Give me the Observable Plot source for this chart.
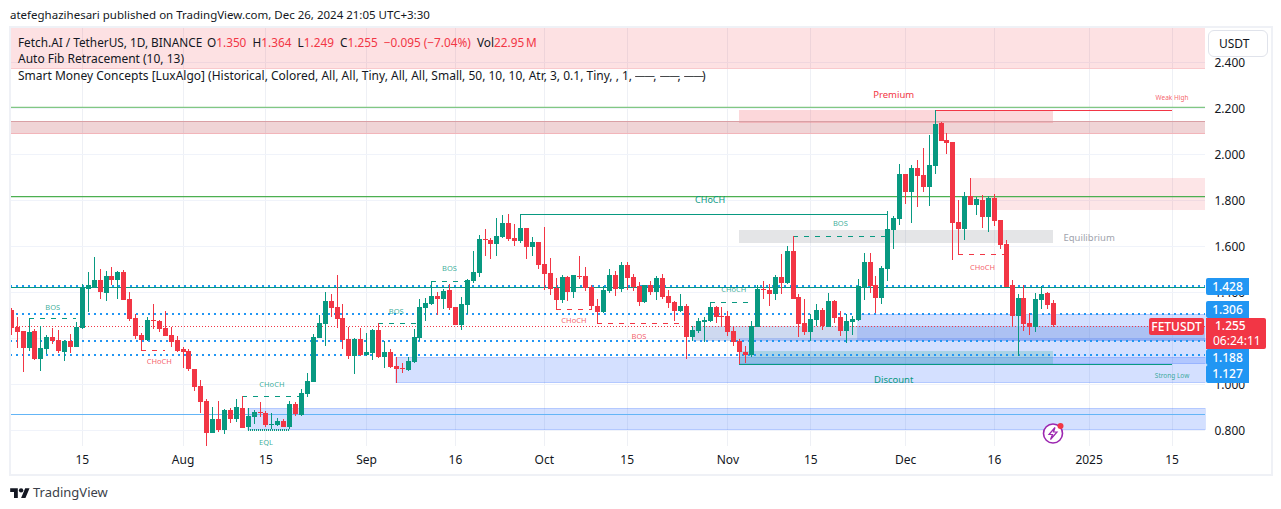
<!DOCTYPE html>
<html><head><meta charset="utf-8">
<script src="https://cdn.jsdelivr.net/npm/d3@7"></script>
<script src="https://cdn.jsdelivr.net/npm/@observablehq/plot@0.6"></script>
<style>
html,body{margin:0;padding:0;background:#fff}
#wrap{position:relative;width:1281px;height:509px;overflow:hidden;font-family:"Noto Sans",sans-serif;color:#131722}
#wrap svg.plot{position:absolute;left:0;top:0}
.t{position:absolute;white-space:pre;font-size:12px;line-height:16px}
.r{color:#f23645}
.d{display:inline-block;width:18px;overflow:hidden;transform:scaleX(1.14);transform-origin:left center;vertical-align:bottom}
.tag{position:absolute;left:1206px;width:43px;color:#fff;font-size:12px;font-weight:500;text-align:center;background:#2196f3;border-radius:2px 0 0 2px}
#frame{position:absolute;left:9px;top:26px;width:1260px;height:446px;border:2px solid #eff1f6;pointer-events:none}
</style></head><body>
<div id="wrap">
<div id="chart"></div>
<div id="frame"></div>
<div class="t" style="left:10px;top:7px;font-size:11.5px">atefeghazihesari published on TradingView.com, Dec 26, 2024 21:05 UTC+3:30</div>
<div class="t" style="left:18px;top:34px;font-size:11.8px">Fetch.AI / TetherUS, 1D, BINANCE</div>
<div class="t" style="left:207px;top:34px;font-size:11.8px">O<span class="r">1.350</span>  H<span class="r">1.364</span>  L<span class="r">1.249</span>  C<span class="r">1.255</span>  <span class="r">−0.095 (−7.04%)</span>  Vol<span class="r">22.95&#8201;M</span></div>
<div class="t" style="left:18px;top:51px">Auto Fib Retracement (10, 13)</div>
<div class="t" style="left:18px;top:68px">Smart Money Concepts [LuxAlgo] (Historical, Colored, All, All, Tiny, All, All, Small, 50, 10, 10, Atr, 3, 0.1, Tiny, , 1, <span class="d">──</span>, <span class="d">──</span>, <span class="d">──</span>)</div>
<div class="t" style="left:1208px;top:30px;width:48px;height:25px;line-height:26px;padding-left:10px;background:#fff;border:1px solid #e0e3eb;border-radius:6px">USDT</div>
<div class="tag" style="top:278px;height:17px;line-height:17px">1.428</div>
<div class="tag" style="top:301px;height:17px;line-height:17px">1.306</div>
<div class="tag" style="top:349px;height:16px;line-height:17px">1.188</div>
<div class="tag" style="top:365px;height:18px;line-height:18px">1.127</div>
<div class="tag" style="left:1149px;width:55px;top:318px;height:17px;line-height:17px;background:#f23645;border-radius:2px">FETUSDT</div>
<div class="tag" style="width:60px;top:318px;height:31px;line-height:15px;background:#f23645;border-radius:0 2px 2px 0;text-align:left;padding-left:0"><div style="padding-left:9px">1.255</div><div style="padding-left:7px;font-weight:400">06:24:11</div></div>
<svg style="position:absolute;left:1040px;top:421px" width="26" height="24" viewBox="0 0 26 24">
<circle cx="13" cy="12.5" r="9.5" fill="#fff" stroke="#9c27b0" stroke-width="1.6"/>
<path d="M15 6.5 L9 13.5 H12.5 L10.5 18.5 L17 11 H13.5 Z" fill="none" stroke="#9c27b0" stroke-width="1.2"/>
<circle cx="20.5" cy="5" r="3" fill="#f23645"/></svg>
<svg style="position:absolute;left:10px;top:486px" width="20" height="12" viewBox="0 0 36 22"><path d="M14 22H7V11H0V4h14v18zM28 22h-8l7.5-18h8L28 22z" fill="#131722"/><circle cx="20" cy="8" r="4" fill="#131722"/></svg>
<div class="t" style="left:33px;top:483px;font-size:13px;line-height:18px;color:#3c3f4a">TradingView</div>
</div>
<script>
const startDay = new Date("2024-07-03T00:00Z");
const endDay = new Date("2024-12-27T00:00Z");
const open = [1.322,1.248,1.230,1.157,1.230,1.109,1.152,1.204,1.191,1.139,
1.187,1.161,1.243,1.413,1.422,1.452,1.396,1.470,1.452,1.487,
1.370,1.287,1.213,1.191,1.278,1.274,1.243,1.213,1.191,1.152,
1.144,1.065,.991,.926,.787,.848,.800,.887,.848,.896,
.813,.857,.877,.874,.822,.822,.839,.813,.913,.865,
.957,1.009,1.200,1.261,1.361,1.335,1.287,1.196,1.122,1.196,
1.126,1.135,1.235,1.117,1.139,1.078,1.070,1.061,1.096,1.200,
1.330,1.348,1.383,1.370,1.409,1.335,1.257,1.344,1.448,1.483,
1.630,1.626,1.609,1.639,1.700,1.635,1.622,1.678,1.596,1.617,
1.522,1.483,1.417,1.365,1.465,1.400,1.470,1.470,1.422,1.339,
1.313,1.404,1.474,1.413,1.517,1.465,1.426,1.357,1.430,1.400,
1.461,1.383,1.357,1.317,1.339,1.204,1.230,1.270,1.274,1.335,
1.296,1.296,1.230,1.187,1.139,1.126,1.248,1.413,1.409,1.391,
1.465,1.439,1.578,1.378,1.265,1.226,1.278,1.322,1.248,1.361,
1.292,1.231,1.270,1.278,1.422,1.531,1.431,1.374,1.500,1.670,
1.717,1.913,1.835,1.939,1.909,1.857,1.948,2.135,2.061,2.052,
1.705,1.674,1.818,1.778,1.800,1.726,1.809,1.713,1.609,1.430,
1.296,1.374,1.265,1.248,1.365,1.396,1.350];
const high = [1.329,1.293,1.230,1.286,1.238,1.252,1.213,1.245,1.235,1.191,
1.217,1.270,1.435,1.487,1.552,1.500,1.491,1.509,1.491,1.496,
1.400,1.304,1.222,1.291,1.348,1.278,1.317,1.248,1.209,1.161,
1.152,1.065,1.018,.935,.900,.926,.891,.896,.935,.948,
.896,.887,.922,.883,.874,.852,.848,.926,.922,.978,
1.048,1.217,1.300,1.400,1.391,1.474,1.348,1.248,1.200,1.243,
1.222,1.239,1.265,1.187,1.152,1.117,1.091,1.117,1.239,1.370,
1.374,1.448,1.400,1.413,1.435,1.335,1.378,1.457,1.578,1.648,
1.674,1.635,1.722,1.735,1.739,1.696,1.738,1.678,1.639,1.617,
1.683,1.548,1.461,1.474,1.470,1.474,1.557,1.509,1.430,1.370,
1.426,1.500,1.491,1.530,1.530,1.478,1.443,1.430,1.448,1.470,
1.478,1.409,1.361,1.391,1.348,1.252,1.287,1.291,1.355,1.339,
1.335,1.317,1.248,1.196,1.165,1.274,1.430,1.448,1.435,1.474,
1.565,1.600,1.643,1.391,1.370,1.304,1.348,1.331,1.396,1.365,
1.318,1.304,1.296,1.457,1.570,1.570,1.470,1.513,1.752,1.731,
1.957,1.913,1.952,1.974,2.026,2.083,2.191,2.139,2.091,2.052,
1.800,1.835,1.896,1.813,1.822,1.818,1.826,1.713,1.626,1.452,
1.391,1.430,1.309,1.396,1.426,1.400,1.364];
const low = [1.213,1.157,1.052,1.144,1.104,1.057,1.131,1.174,1.135,1.100,
1.135,1.161,1.239,1.313,1.418,1.370,1.361,1.430,1.370,1.365,
1.274,1.196,1.146,1.187,1.239,1.226,1.209,1.161,1.139,1.070,
1.057,.970,.874,.731,.787,.791,.783,.831,.835,.809,
.800,.826,.857,.813,.804,.817,.813,.804,.861,.861,
.944,1.009,1.200,1.165,1.291,1.243,1.152,1.109,1.044,1.122,
1.122,1.104,1.113,1.070,1.070,1.004,1.048,1.057,1.091,1.187,
1.274,1.344,1.300,1.326,1.322,1.257,1.235,1.304,1.439,1.465,
1.557,1.544,1.557,1.635,1.622,1.600,1.613,1.544,1.557,1.500,
1.409,1.387,1.326,1.352,1.361,1.374,1.457,1.404,1.322,1.265,
1.309,1.396,1.383,1.400,1.409,1.404,1.339,1.352,1.387,1.365,
1.370,1.330,1.274,1.313,1.109,1.187,1.222,1.183,1.270,1.265,
1.248,1.209,1.165,1.087,1.091,1.117,1.248,1.370,1.339,1.365,
1.391,1.435,1.370,1.204,1.213,1.187,1.252,1.235,1.248,1.265,
1.209,1.178,1.213,1.274,1.365,1.396,1.309,1.348,1.448,1.587,
1.691,1.783,1.700,1.770,1.835,1.774,1.913,2.057,2.000,1.539,
1.565,1.626,1.778,1.735,1.678,1.661,1.687,1.587,1.423,1.252,
1.122,1.230,1.213,1.226,1.326,1.326,1.249];
const close = [1.243,1.226,1.157,1.226,1.109,1.157,1.204,1.187,1.144,1.187,
1.161,1.248,1.419,1.430,1.452,1.400,1.470,1.452,1.487,1.365,
1.283,1.209,1.191,1.278,1.274,1.239,1.209,1.183,1.144,1.139,
1.065,.987,.922,.787,.848,.800,.887,.848,.900,.809,
.861,.878,.873,.822,.826,.839,.813,.913,.870,.961,
1.013,1.204,1.265,1.361,1.330,1.283,1.191,1.122,1.196,1.126,
1.139,1.235,1.117,1.139,1.074,1.065,1.065,1.100,1.204,1.335,
1.352,1.383,1.370,1.404,1.330,1.257,1.348,1.452,1.487,1.630,
1.626,1.609,1.643,1.700,1.630,1.622,1.678,1.596,1.617,1.517,
1.478,1.413,1.365,1.465,1.400,1.474,1.465,1.417,1.339,1.313,
1.409,1.474,1.413,1.517,1.461,1.422,1.357,1.430,1.400,1.461,
1.378,1.352,1.317,1.339,1.204,1.235,1.274,1.278,1.335,1.291,
1.291,1.226,1.183,1.139,1.126,1.252,1.413,1.409,1.391,1.465,
1.439,1.578,1.370,1.261,1.226,1.283,1.322,1.252,1.361,1.287,
1.231,1.274,1.283,1.426,1.531,1.426,1.374,1.505,1.674,1.722,
1.913,1.835,1.939,1.905,1.857,1.952,2.131,2.057,2.048,1.700,
1.674,1.818,1.778,1.805,1.726,1.809,1.709,1.605,1.423,1.296,
1.374,1.261,1.248,1.370,1.391,1.344,1.255];

const xTickDates = ["2024-07-15","2024-08-01","2024-08-15","2024-09-01","2024-09-16","2024-10-01","2024-10-15","2024-11-01","2024-11-15","2024-12-01","2024-12-16","2025-01-01","2025-01-15"].map(s=>new Date(s+"T00:00Z"));
const xTickLabels = ["15","Aug","15","Sep","16","Oct","15","Nov","15","Dec","16","2025","15"];
const yTicks = [0.8,1.0,1.2,1.4,1.6,1.8,2.0,2.2,2.4];
const yAxisTicks = [0.8,1.0,1.4,1.6,1.8,2.0,2.2,2.4]; // 1.200 is hidden behind the price tags
const xMin = new Date("2024-07-02T20:46Z"), xMax = new Date("2025-01-20T15:36Z");
const yMin = 0.7304, yMax = 2.552;

const UP="#089981", DOWN="#f23645", BLUE="#2962ff", DOT="#2196f3";
const D = s => new Date(s+"T00:00Z");
const dates = d3.utcDays(startDay, endDay);
const candles = dates.map((date,i)=>({date,open:open[i],high:high[i],low:low[i],close:close[i],color:close[i]>=open[i]?UP:DOWN}));

// zones: from, to, bottom price, top price, fill, opacity
const zones = [
 [xMin,xMax,2.374,yMax,DOWN,.15],
 [xMin,xMax,2.093,2.142,"#b22833",.2],
 [D("2024-11-03"),D("2024-12-26"),2.136,2.191,DOWN,.2],
 [D("2024-12-12"),xMax,1.796,1.896,DOWN,.13],
 [D("2024-12-16"),xMax,1.758,1.796,DOWN,.13],
 [D("2024-11-03"),D("2024-12-26"),1.614,1.670,"#787b86",.2],
 [D("2024-10-26"),xMax,1.187,1.252,"#3b67c3",.25],
 [D("2024-11-23"),xMax,1.191,1.304,BLUE,.2],
 [D("2024-11-03"),xMax,1.087,1.196,BLUE,.2],
 [D("2024-09-06"),xMax,1.006,1.117,BLUE,.2],
 [D("2024-08-12"),xMax,0.800,0.894,BLUE,.2],
 [D("2024-11-03"),D("2024-12-26"),1.087,1.143,UP,.2]
].map(([x1,x2,y1,y2,fill,op])=>({x1,x2,y1,y2,fill,op}));

// full-width levels
const blueLevels = [1.428,1.306,1.188,1.127];

// structure segments: from, to, price, colour, style
const segments = [
 ["2024-07-06","2024-07-14",1.286,UP,"5,6"],
 ["2024-07-25","2024-07-29",1.146,DOWN,"5,6"],
 ["2024-08-11","2024-08-21",0.948,UP,"5,6"],
 ["2024-09-03","2024-09-10",1.264,UP,"5,6"],
 ["2024-09-12","2024-09-18",1.448,UP,"5,6"],
 ["2024-10-03","2024-10-09",1.326,DOWN,"5,6"],
 ["2024-10-10","2024-10-24",1.264,DOWN,"5,6"],
 ["2024-10-29","2024-11-05",1.355,UP,"5,6"],
 ["2024-11-12","2024-11-28",1.642,UP,"5,6"],
 ["2024-12-10","2024-12-18",1.565,DOWN,"5,6"],
 ["2024-08-12","2024-08-19",0.800,UP,"1,1"],
 ["2024-09-27","2024-11-28",1.738,UP,null],
 ["2024-11-03","2025-01-15",1.087,UP,null],
 ["2024-12-06","2025-01-15",2.191,DOWN,null]
].map(([a,b,y,stroke,dash])=>({x1:D(a),x2:D(b),y,stroke,dash}));

// small text labels: date, price, text, colour, size
const labels = [
 ["2024-07-10",1.336,"BOS",UP,7.5],
 ["2024-07-28",1.098,"CHoCH",DOWN,7.5],
 ["2024-08-16",0.999,"CHoCH",UP,7.5],
 ["2024-08-15",0.749,"EQL",UP,7.5],
 ["2024-09-06",1.319,"BOS",UP,7.5],
 ["2024-09-15",1.503,"BOS",UP,7.5],
 ["2024-10-06",1.277,"CHoCH",DOWN,7.5],
 ["2024-10-17",1.210,"BOS",DOWN,7.5],
 ["2024-11-02",1.412,"CHoCH",UP,7.5],
 ["2024-11-20",1.699,"BOS",UP,7.5],
 ["2024-12-14",1.510,"CHoCH",DOWN,7.5],
 ["2024-10-29",1.800,"CHoCH",UP,9],
 ["2024-11-29",2.257,"Premium",DOWN,9.5],
 ["2024-11-29",1.020,"Discount",UP,9.5],
 ["2025-01-01",1.635,"Equilibrium","#a0a3ad",9.5],
 ["2025-01-15",2.248,"Weak High",DOWN,6.5],
 ["2025-01-15",1.036,"Strong Low",UP,6.5]
].map(([d,y,text,fill,size])=>({x:D(d),y,text,fill,size}));

const crisp = {shapeRendering:"crispEdges"};
const plot = Plot.plot({
 width:1281,height:509,marginLeft:10,marginRight:76,marginTop:27,marginBottom:63,
 style:{fontFamily:'"Noto Sans",sans-serif',fontSize:"12px",background:"transparent",color:"#131722"},
 x:{type:"utc",domain:[xMin,xMax]},
 y:{type:"linear",domain:[yMin,yMax]},
 color:{type:"identity"},
 marks:[
  Plot.gridX(xTickDates,{stroke:"#eef0f5",strokeOpacity:1,...crisp}),
  Plot.gridY(yTicks,{stroke:"#f0f3fa",strokeOpacity:1,...crisp}),
  Plot.axisY({anchor:"right",ticks:yAxisTicks,tickSize:0,tickPadding:9,label:null,tickFormat:d3.format(".3f"),fontSize:12,dy:1}),
  Plot.axisX({anchor:"bottom",ticks:xTickDates,tickSize:0,tickPadding:9,label:null,tickFormat:d=>xTickLabels[xTickDates.findIndex(t=>+t===+d)],fontSize:12}),
  Plot.rect(zones,{x1:"x1",x2:"x2",y1:"y1",y2:"y2",fill:"fill",fillOpacity:"op",stroke:"fill",strokeOpacity:d=>d.fill===BLUE?.18:0,...crisp}),
  Plot.ruleY([2.374],{stroke:"#f9c9cc",...crisp}),
  Plot.ruleY([2.142],{stroke:"#d9a0a5",...crisp}),
  Plot.ruleY([2.093],{stroke:"#f2b5ba",...crisp}),
  Plot.ruleY([2.205],{stroke:"#81c784",strokeWidth:1.3}),
  Plot.ruleY([1.8165],{stroke:"#4caf50",strokeWidth:1.3}),
  Plot.ruleY([0.868],{stroke:"#64b5f6",...crisp}),
  Plot.ruleY([1.428],{stroke:UP,dy:1,...crisp}),
  Plot.ruleY(blueLevels,{stroke:DOT,strokeWidth:2,strokeDasharray:"2,4",dy:-0.5,...crisp}),
  Plot.ruleY([1.255],{stroke:DOWN,strokeDasharray:"1,2",dy:1,...crisp}),
  ...segments.map(s=>Plot.ruleY([s.y],{x1:s.x1,x2:s.x2,stroke:s.stroke,strokeWidth:s.dash==="1,1"?2:1,strokeDasharray:s.dash,...crisp})),
  Plot.ruleX(candles,{x:"date",y1:"low",y2:"high",stroke:"color",strokeWidth:1,...crisp}),
  Plot.ruleX(candles,{x:"date",y1:"open",y2:"close",stroke:"color",strokeWidth:5,...crisp}),
  ...labels.map(l=>Plot.text([l],{x:"x",y:"y",text:"text",fill:l.fill,fontSize:l.size,fillOpacity:l.size>=9?1:.8}))
 ]
});
document.getElementById("chart").append(plot);
</script>
</body></html>
